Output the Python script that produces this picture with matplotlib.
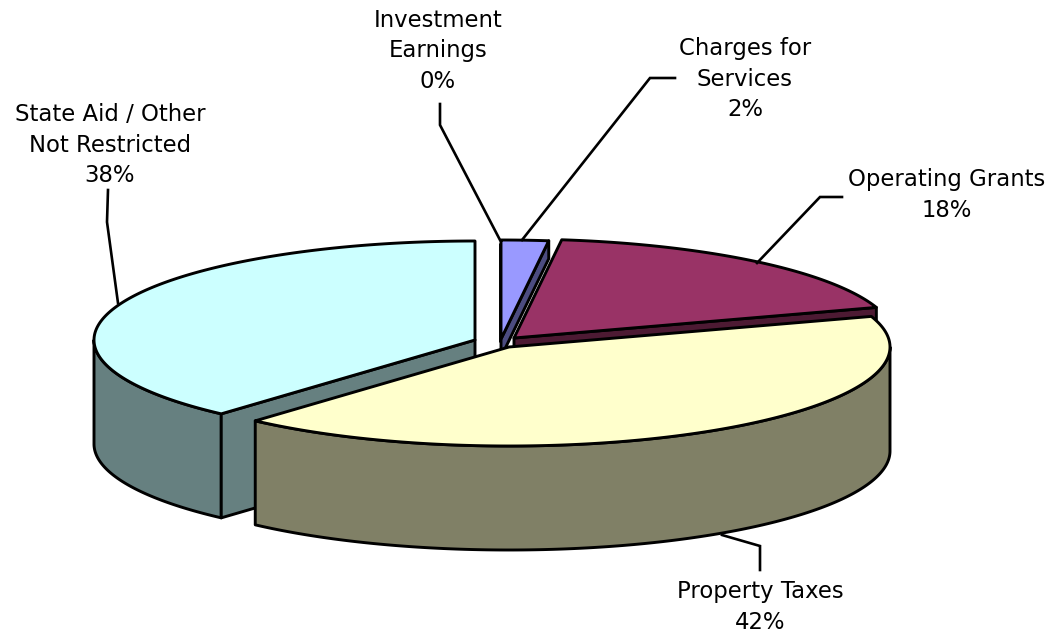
# Exploded 3D style pie of revenue sources, drawn as an oblique projection
import numpy as np
import matplotlib.pyplot as plt
from matplotlib.patches import Polygon

# Data, clockwise from 12 o'clock
names = ['Investment\nEarnings', 'Charges for\nServices', 'Operating Grants', 'Property Taxes', 'State Aid / Other\nNot Restricted']
shares = [0.0, 2.0, 18.0, 41.6, 38.4]
top_colors = ['#FFFFFF', '#9999FF', '#993366', '#FFFFCC', '#CCFFFF']
side_colors = ['#808080', '#4C4C80', '#4D1A33', '#808066', '#668080']

# Layout in pixels
centers = [(500, 342), (501, 339), (514, 338), (509, 347), (475, 340)]
face_depth = [0, 18, 14, 0, 104]
rx, ry, depth = 381, 99, 104
label_xy = [(438, 51), (745, 79), (947, 195), (760, 607), (110, 145)]
leaders = [
    [(440, 104), (440, 125), (500, 240)],
    [(675, 78), (650, 78), (522, 240)],
    [(842, 197), (820, 197), (757, 263)],
    [(722, 535), (760, 546), (760, 570)],
    [(108, 190), (107, 222), (118, 303)],
]
edge_lw = 2.1

fig = plt.figure(figsize=(10.53, 6.35), dpi=100)
ax = fig.add_axes([0, 0, 1, 1])
ax.set_xlim(0, 1053)
ax.set_ylim(635, 0)
ax.axis('off')


# Point on the top ellipse of a slice, angle in degrees clockwise from the top
def rim(center, angle):
    t = np.radians(angle)
    return np.column_stack([center[0] + rx * np.sin(t), center[1] - ry * np.cos(t)])


def draw(points, color, z):
    ax.add_patch(Polygon(points, closed=True, facecolor=color, edgecolor='black',
                         linewidth=edge_lw, joinstyle='round', zorder=z))


edges = np.concatenate([[0], np.cumsum(shares) * 3.6])
down = np.array([0, depth])

# Back to front: property goes last because it hides the cut faces behind it
for i, z in [(4, 1), (2, 2), (1, 3), (0, 4), (3, 5)]:
    c = np.array(centers[i], dtype=float)
    a0, a1 = edges[i], edges[i + 1]
    arc = np.linspace(a0, a1, 200)
    outer = rim(c, arc)

    # outer wall, only where the rim faces the viewer (90 to 270 degrees)
    lo, hi = max(a0, 90), min(a1, 270)
    if hi > lo:
        wall = rim(c, np.linspace(lo, hi, 200))
        draw(np.vstack([wall, (wall + down)[::-1]]), side_colors[i], z)

    # cut face seen under the slice
    if face_depth[i] > 0:
        shift = np.array([0, face_depth[i]])
        if i == 4:
            cut = rim(c, np.array([a0]))[0]
        else:
            cut = rim(c, np.array([a1]))[0]
        draw([cut, c, c + shift, cut + shift], side_colors[i], z)

    # top surface
    draw(np.vstack([[c], outer]), top_colors[i], z + 0.5)

# Leader lines and labels
for path, name, xy, share in zip(leaders, names, label_xy, shares):
    xs, ys = zip(*path)
    ax.plot(xs, ys, color='black', linewidth=1.9, solid_joinstyle='miter', zorder=6)
    ax.text(xy[0], xy[1], f'{name}\n{round(share)}%', ha='center', va='center', fontsize=16.4,
            family='DejaVu Sans', linespacing=1.4, color='black', zorder=7)

fig.savefig('out.png', dpi=100)
